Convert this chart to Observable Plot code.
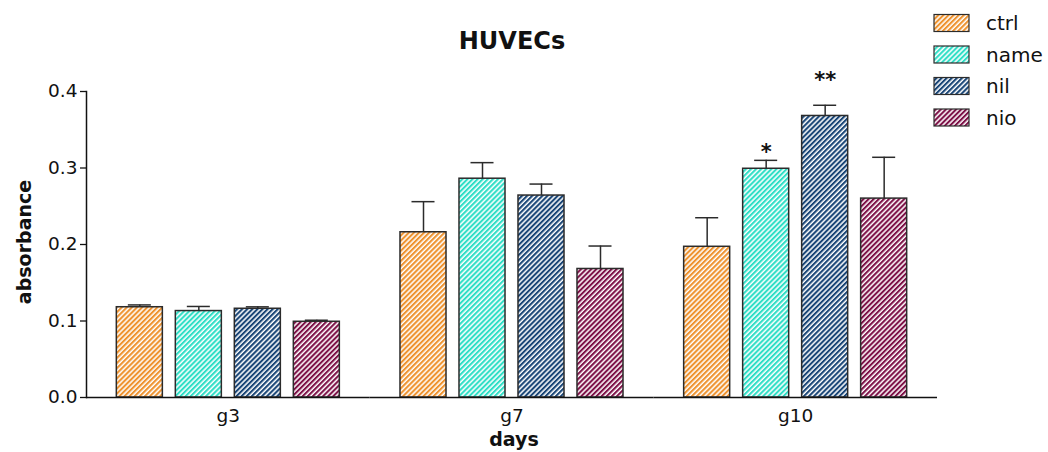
<!DOCTYPE html>
<html>
<head>
<meta charset="utf-8">
<script src="https://cdn.jsdelivr.net/npm/d3@7"></script>
<script src="https://cdn.jsdelivr.net/npm/@observablehq/plot@0.6"></script>
<style>
  html, body { margin: 0; padding: 0; background: #fff; }
  #chart { width: 1048px; height: 452px; }
</style>
</head>
<body>
<div id="chart"></div>
<script>
// ---- data ----
const days = ["g3", "g7", "g10"];
const series = ["ctrl", "name", "nil", "nio"];
const colors = ["#EE9330", "#30DEC6", "#1A4677", "#7E1248"];
const yTicks = [0, 0.1, 0.2, 0.3, 0.4];
const meanCtrl = [0.118, 0.216, 0.197];
const meanName = [0.113, 0.286, 0.299];
const meanNil  = [0.116, 0.264, 0.368];
const meanNio  = [0.099, 0.168, 0.260];
const errCtrl = [0.003, 0.040, 0.038];
const errName = [0.006, 0.021, 0.011];
const errNil  = [0.0025, 0.015, 0.014];
const errNio  = [0.002, 0.030, 0.054];
const starDays = ["g10", "g10"];
const starSeries = ["name", "nil"];
const starLabels = ["*", "**"];
const starY = [0.328, 0.422];
const title = "HUVECs";
const xLabel = "days";
const yLabel = "absorbance";

const means = [meanCtrl, meanName, meanNil, meanNio];
const errs = [errCtrl, errName, errNil, errNio];
const rows = [];
days.forEach((d, i) => series.forEach((s, j) => rows.push({day: d, series: s, mean: means[j][i], err: errs[j][i]})));
const stars = starLabels.map((l, i) => ({day: starDays[i], series: starSeries[i], label: l, y: starY[i]}));

const font = "DejaVu Sans";
const ink = "#2b2b2b";

const plot = Plot.plot({
  width: 1048,
  height: 452,
  marginTop: 91,
  marginBottom: 55,
  marginLeft: 86,
  marginRight: 111,
  style: {fontFamily: font, color: "#111", background: "white"},
  fx: {domain: days, padding: 0, round: false},
  x: {domain: series, paddingInner: 0.22, paddingOuter: 0.514, round: false, axis: null},
  y: {domain: [0, 0.4]},
  color: {type: "ordinal", domain: series, range: series.map(s => `url(#hatch-${s})`)},
  marks: [
    Plot.barY(rows, {fx: "day", x: "series", y: "mean", fill: "series", stroke: ink, strokeWidth: 1.5}),
    Plot.ruleX(rows, {fx: "day", x: "series", y1: "mean", y2: d => d.mean + d.err, stroke: ink, strokeWidth: 1.5}),
    Plot.tickY(rows, {fx: "day", x: "series", y: d => d.mean + d.err, stroke: ink, strokeWidth: 1.5, insetLeft: 11.5, insetRight: 11.5}),
    Plot.ruleY([0], {stroke: "#111", strokeWidth: 1.5}),
    Plot.frame({anchor: "left", facetAnchor: "left", stroke: "#111", strokeWidth: 1.5}),
    Plot.axisY({ticks: yTicks, tickFormat: d3.format(".1f"), tickSize: 6, tickPadding: 3, fontSize: 18.5, label: null, strokeWidth: 1.3}),
    Plot.axisFx({anchor: "bottom", tickSize: 0, tickPadding: 11, fontSize: 18.5, label: null}),
    Plot.text(stars, {fx: "day", x: "series", y: "y", text: "label", fontSize: 21, fontWeight: "bold", dy: 6, fill: "#111"})
  ]
});

// hatch patterns
const svg = d3.select(plot);
const defs = svg.insert("defs", ":first-child");
series.forEach((s, i) => {
  const p = defs.append("pattern")
    .attr("id", `hatch-${s}`)
    .attr("patternUnits", "userSpaceOnUse")
    .attr("width", 3.6).attr("height", 3.6)
    .attr("patternTransform", "rotate(45)");
  p.append("rect").attr("width", 3.6).attr("height", 3.6).attr("fill", "white");
  p.append("rect").attr("width", 2.1).attr("height", 3.6).attr("fill", colors[i]);
});

// title and axis labels
svg.append("text").text(title)
  .attr("x", 512).attr("y", 49).attr("text-anchor", "middle")
  .attr("font-family", font).attr("font-weight", "bold").attr("font-size", 24).attr("fill", "#111");
svg.append("text").text(xLabel)
  .attr("x", 514).attr("y", 446).attr("text-anchor", "middle")
  .attr("font-family", font).attr("font-weight", "bold").attr("font-size", 19).attr("fill", "#111");
svg.append("text").text(yLabel)
  .attr("transform", "translate(31,242) rotate(-90)").attr("text-anchor", "middle")
  .attr("font-family", font).attr("font-weight", "bold").attr("font-size", 19).attr("fill", "#111");

// legend
const lg = svg.append("g");
series.forEach((s, i) => {
  const cy = 23 + i * 31.5;
  lg.append("rect").attr("x", 934).attr("y", cy - 8.5).attr("width", 35).attr("height", 17)
    .attr("fill", `url(#hatch-${s})`).attr("stroke", ink).attr("stroke-width", 1.2);
  lg.append("text").text(s).attr("x", 986).attr("y", cy).attr("dy", "0.35em")
    .attr("text-anchor", "start")
    .attr("font-family", font).attr("font-size", 20).attr("fill", "#111");
});

document.getElementById("chart").appendChild(plot);
</script>
</body>
</html>
